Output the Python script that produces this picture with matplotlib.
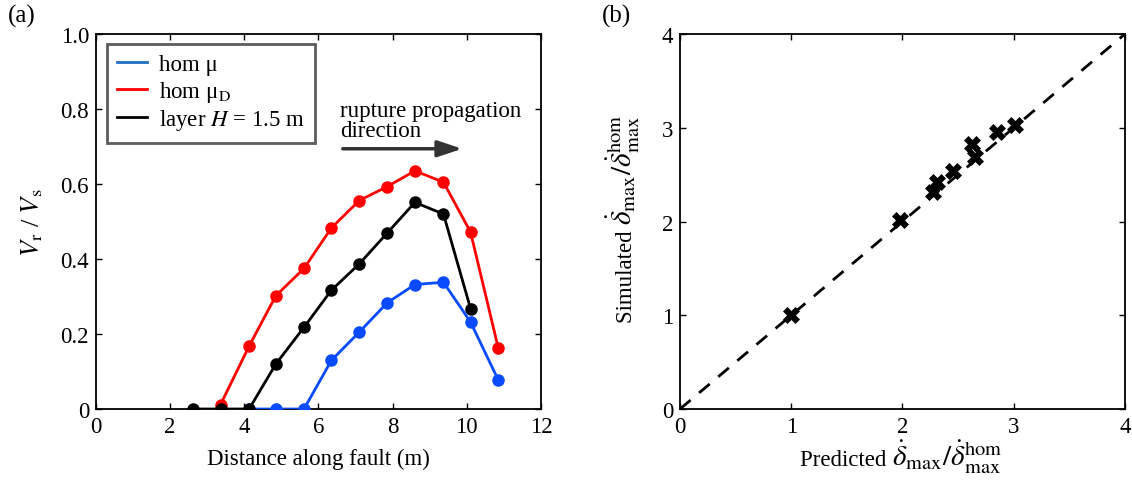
import matplotlib
matplotlib.use("Agg")
import matplotlib.pyplot as plt

plt.rcParams['font.family'] = ['Liberation Serif', 'DejaVu Serif']
plt.rcParams['mathtext.fontset'] = 'stix'
plt.rcParams['font.size'] = 16.5

# Panel (a) data
x_pos = [2.62, 3.36, 4.13, 4.85, 5.61, 6.35, 7.10, 7.85, 8.60, 9.37, 10.10, 10.85]
blue_x = x_pos[2:]
blue_y = [0.0, 0.0, 0.0, 0.130, 0.205, 0.283, 0.332, 0.338, 0.232, 0.077]
red_x = x_pos[1:]
red_y = [0.012, 0.168, 0.302, 0.375, 0.483, 0.556, 0.593, 0.635, 0.605, 0.472, 0.162]
black_x = x_pos[:11]
black_y = [0.0, 0.0, 0.0, 0.120, 0.218, 0.317, 0.387, 0.469, 0.551, 0.520, 0.268]

# Panel (b) data
pred = [1.00, 1.98, 2.27, 2.31, 2.45, 2.625, 2.65, 2.85, 3.01]
sim = [1.00, 2.02, 2.31, 2.42, 2.535, 2.83, 2.69, 2.96, 3.03]

W, H = 1132, 481
fig = plt.figure(figsize=(W / 100, H / 100), dpi=100)
ax1 = fig.add_axes([0.0848, 0.1476, 0.3931, 0.7796])
ax2 = fig.add_axes([0.6007, 0.1476, 0.3931, 0.7796])

for ax in (ax1, ax2):
    ax.tick_params(direction='in', top=True, right=True, length=4, width=1, labelsize=16.5, pad=5)
    for s in ax.spines.values():
        s.set_linewidth(1.3)

lw = 2.0
ms = 8
ax1.plot(blue_x, blue_y, '-o', color='#0a4bff', lw=lw, ms=ms, label=r'hom μ', zorder=3)
ax1.plot(red_x, red_y, '-o', color='#ff0000', lw=lw, ms=ms, label=r'hom μ$_\mathrm{D}$', zorder=3)
ax1.plot(black_x, black_y, '-o', color='black', lw=lw, ms=ms, label=r'layer $H$ = 1.5 m', zorder=4)
ax1.set_xlim(0, 12)
ax1.set_ylim(0, 1.0)
ax1.set_xticks([0, 2, 4, 6, 8, 10, 12])
ax1.set_yticks([0, 0.2, 0.4, 0.6, 0.8, 1.0])
ax1.set_yticklabels(['0', '0.2', '0.4', '0.6', '0.8', '1.0'])
ax1.set_xlabel('Distance along fault (m)', fontsize=16.5, labelpad=8)
ax1.set_ylabel(r'$V_\mathrm{r}$ / $V_\mathrm{s}$', fontsize=19, labelpad=11)
leg = ax1.legend(loc='upper left', bbox_to_anchor=(0.025, 0.973), borderaxespad=0.0,
                 frameon=True, fancybox=False,
                 fontsize=16.5, handlelength=1.3, borderpad=0.45, labelspacing=0.15, handletextpad=0.5)
leg.get_frame().set_edgecolor('#333333')
leg.get_frame().set_linewidth(2.0)
leg.legend_handles[0].set_color('#1f6fc0')
for h in leg.legend_handles:
    h.set_marker('')
ax1.annotate('', xy=(9.95, 0.694), xytext=(6.58, 0.694),
             arrowprops=dict(arrowstyle='-|>,head_length=0.9,head_width=0.3', color='#333333', lw=2.5))
ax1.text(6.58, 0.825, 'rupture propagation\ndirection', fontsize=16.5, va='top', ha='left', linespacing=0.95)

ax2.plot([0, 4], [0, 4], '--', color='black', lw=2, dashes=(5, 4))
ax2.plot(pred, sim, 'X', color='black', ms=11, mew=0.5, zorder=3)
ax2.set_xlim(0, 4)
ax2.set_ylim(0, 4)
ax2.set_xticks([0, 1, 2, 3, 4])
ax2.set_yticks([0, 1, 2, 3, 4])

ratio_math = r'$\dot{\delta}_\mathrm{max}/\dot{\delta}_\mathrm{max}^\mathrm{hom}$'

# x label of (b): plain word + larger math part
fig.canvas.draw()
renderer = fig.canvas.get_renderer()
t1 = fig.text(800 / W, 1 - 466 / H, 'Predicted ', fontsize=16.5, ha='left', va='baseline')
bb = t1.get_window_extent(renderer)
fig.text(bb.x1 / W, 1 - 466 / H, ratio_math, fontsize=21, ha='left', va='baseline')

# y label of (b)
t2 = fig.text(632 / W, 1 - 323 / H, 'Simulated ', fontsize=16.5, ha='left', va='baseline',
              rotation=90, rotation_mode='anchor')
bb2 = t2.get_window_extent(renderer)
fig.text(632 / W, bb2.y1 / H, ratio_math, fontsize=21, ha='left', va='baseline',
         rotation=90, rotation_mode='anchor')

fig.text(0.007, 0.965, '(a)', fontsize=18, va='center', ha='left')
fig.text(0.532, 0.965, '(b)', fontsize=18, va='center', ha='left')

fig.savefig('out.png', dpi=100)
